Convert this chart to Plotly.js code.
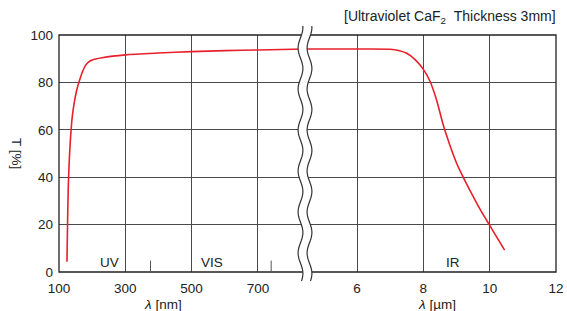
<!DOCTYPE html>
<html>
<head>
<meta charset="utf-8">
<script src="https://cdn.plot.ly/plotly-3.0.1.min.js"></script>
<style>html,body{margin:0;padding:0;background:#fff;}#chart{width:567px;height:311px;}</style>
</head>
<body>
<div id="chart"></div>
<script>
// ---- data ----
const nmWavelength = [124, 126, 128, 131, 135, 140, 146, 153, 161, 170, 180, 190, 200, 230, 300, 400, 500, 600, 700, 842];
const nmTransmit   = [4.3, 22, 36, 47, 57, 65.5, 71.5, 76.5, 80.5, 84.2, 87.2, 88.7, 89.5, 90.4, 91.6, 92.4, 93.0, 93.4, 93.7, 94.1];
const umWavelength = [4.43, 5, 6, 7, 7.25, 7.5, 7.75, 8.0, 8.2, 8.4, 8.6, 8.8, 9.0, 9.2, 9.4, 9.6, 9.8, 10, 10.2, 10.45];
const umTransmit   = [94.1, 94.1, 94.1, 94.0, 93.5, 92.3, 89.6, 85.5, 80.5, 72.5, 62, 53.5, 46, 40, 34.5, 29.3, 24.3, 19.7, 15, 9.2];
const nmTicks = [100, 300, 500, 700];
const umTicks = [6, 8, 10, 12];
const yTicks = [0, 20, 40, 60, 80, 100];
const regionNames = ['UV', 'VIS', 'IR'];
const regionBoundsNm = [376, 740];
const titleText = '[Ultraviolet CaF<sub>2</sub>\u00a0\u00a0Thickness 3mm]';

// ---- layout helpers (pixel geometry) ----
const L = 59, R = 556, T = 35, B = 272;
const W = R - L, H = B - T;
const fx = px => (px - L) / W;
const fy = py => (B - py) / H;
const breakFrac = fx(305);

const FONT = '"Liberation Sans", Arial, sans-serif';
const red = '#e8202b';
const gridC = '#4a4a4a';

const traces = [
  {x: nmWavelength, y: nmTransmit, xaxis: 'x', yaxis: 'y', mode: 'lines',
   line: {color: red, width: 1.6, shape: 'spline', smoothing: 0.8}, hoverinfo: 'skip'},
  {x: umWavelength, y: umTransmit, xaxis: 'x2', yaxis: 'y', mode: 'lines',
   line: {color: red, width: 1.6, shape: 'spline', smoothing: 0.8}, hoverinfo: 'skip'}
];

// wavy break
function wave(xc, y0, y1) {
  const pts = [];
  for (let py = y0; py <= y1; py += 1.5) {
    const px = xc - 2.4 * Math.cos(2 * Math.PI * (py - 48) / 41);
    pts.push([fx(px), fy(py)]);
  }
  return pts;
}
const wl = wave(300.5, 26, 281);
const wr = wave(309.5, 26, 281);
const toPath = (pts) => pts.map((p, i) => (i ? 'L' : 'M') + p[0].toFixed(5) + ',' + p[1].toFixed(5)).join(' ');
const bandPath = toPath(wl) + ' ' + wr.slice().reverse().map(p => 'L' + p[0].toFixed(5) + ',' + p[1].toFixed(5)).join(' ') + ' Z';

const shapes = [
  {type: 'rect', xref: 'paper', yref: 'paper', x0: 0, x1: 1, y0: 0, y1: 1, line: {color: '#222', width: 1.3}, layer: 'above'},
  {type: 'line', xref: 'x', yref: 'y', x0: regionBoundsNm[0], x1: regionBoundsNm[0], y0: 0, y1: 4.8, line: {color: '#555', width: 1}},
  {type: 'line', xref: 'x', yref: 'y', x0: regionBoundsNm[1], x1: regionBoundsNm[1], y0: 0, y1: 4.8, line: {color: '#555', width: 1}},
  {type: 'path', xref: 'paper', yref: 'paper', path: bandPath, fillcolor: '#fff', line: {width: 0}, layer: 'above'},
  {type: 'path', xref: 'paper', yref: 'paper', path: toPath(wl), line: {color: '#333', width: 1.2}, layer: 'above'},
  {type: 'path', xref: 'paper', yref: 'paper', path: toPath(wr), line: {color: '#333', width: 1.2}, layer: 'above'}
];

const annFont = {family: FONT, size: 13.5, color: '#222'};
const annotations = [
  {xref: 'paper', yref: 'paper', x: fx(558), y: fy(17), xanchor: 'right', yanchor: 'middle', text: titleText, showarrow: false, font: {family: FONT, size: 14, color: '#222'}},
  {xref: 'paper', yref: 'paper', x: fx(17), y: fy(153), xanchor: 'center', yanchor: 'middle', text: 'T [%]', textangle: 90, showarrow: false, font: annFont},
  {xref: 'paper', yref: 'paper', x: fx(163), y: fy(304), xanchor: 'center', yanchor: 'middle', text: '<i>λ</i> [nm]', showarrow: false, font: annFont},
  {xref: 'paper', yref: 'paper', x: fx(437), y: fy(304), xanchor: 'center', yanchor: 'middle', text: '<i>λ</i> [µm]', showarrow: false, font: annFont},
  {xref: 'x', yref: 'y', x: 251, y: 4.2, text: regionNames[0], showarrow: false, font: annFont},
  {xref: 'x', yref: 'y', x: 561, y: 4.2, text: regionNames[1], showarrow: false, font: annFont},
  {xref: 'x2', yref: 'y', x: 8.9, y: 4.2, text: regionNames[2], showarrow: false, font: annFont}
];

const axCommon = {
  showgrid: true, gridcolor: gridC, gridwidth: 1, zeroline: false, showline: false,
  ticks: '', tickfont: {family: FONT, size: 13.5, color: '#222'}, fixedrange: true
};

const layout = {
  width: 567, height: 311,
  margin: {l: L, r: 567 - R, t: T, b: 311 - B, pad: 0},
  paper_bgcolor: '#fff', plot_bgcolor: '#fff',
  showlegend: false,
  font: {family: FONT, color: '#222'},
  xaxis: Object.assign({}, axCommon, {domain: [0, breakFrac], range: [100, 842], tickvals: nmTicks, ticktext: nmTicks.map(String), anchor: 'y', ticklabelstandoff: 6}),
  xaxis2: Object.assign({}, axCommon, {domain: [breakFrac, 1], range: [4.43, 12], tickvals: umTicks, ticktext: umTicks.map(String), anchor: 'y', ticklabelstandoff: 6}),
  yaxis: Object.assign({}, axCommon, {range: [0, 100], tickvals: yTicks, ticktext: yTicks.map(String), anchor: 'x', ticklabelstandoff: 5}),
  shapes: shapes,
  annotations: annotations
};

Plotly.newPlot('chart', traces, layout, {staticPlot: true, displayModeBar: false});
</script>
</body>
</html>
